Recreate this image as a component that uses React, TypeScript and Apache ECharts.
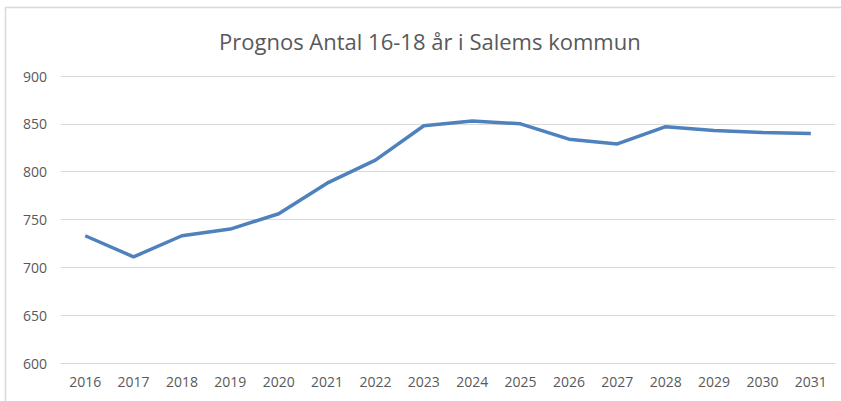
import React, { useEffect, useRef } from "react";
import * as echarts from "echarts";

const title = "Prognos Antal 16-18 år i Salems kommun";
const years = ["2016", "2017", "2018", "2019", "2020", "2021", "2022", "2023", "2024", "2025", "2026", "2027", "2028", "2029", "2030", "2031"];
const values = [733, 711, 733, 740, 756, 788, 812, 848, 853, 850, 834, 829, 847, 843, 841, 840];

export default function App() {
  const ref = useRef<HTMLDivElement>(null);
  useEffect(() => {
    const chart = echarts.init(ref.current!, null, { renderer: "svg" });
    chart.setOption({
      animation: false,
      backgroundColor: "#ffffff",
      title: {
        text: title,
        left: 214,
        top: 25,
        textStyle: { fontFamily: "Open Sans", fontSize: 22, fontWeight: "normal", color: "#595959" },
      },
      graphic: [
        {
          type: "rect",
          shape: { x: 5.5, y: 7.5, width: 850, height: 420 },
          style: { fill: "none", stroke: "#d9d9d9", lineWidth: 1.5 },
          silent: true,
        },
      ],
      grid: { left: 61, right: 6, top: 76, bottom: 38 },
      xAxis: {
        type: "category",
        data: years,
        boundaryGap: true,
        axisLine: { show: true, lineStyle: { color: "#d9d9d9" } },
        axisTick: { show: false },
        axisLabel: { color: "#595959", fontFamily: "Open Sans", fontSize: 14, margin: 11 },
      },
      yAxis: {
        type: "value",
        min: 600,
        max: 900,
        interval: 50,
        axisLine: { show: false },
        axisTick: { show: false },
        splitLine: { lineStyle: { color: "#d9d9d9", width: 1 } },
        axisLabel: { color: "#595959", fontFamily: "Open Sans", fontSize: 14, margin: 14 },
      },
      series: [
        {
          type: "line",
          data: values,
          symbol: "none",
          lineStyle: { color: "#4f81bd", width: 3.5 },
        },
      ],
    });
    return () => chart.dispose();
  }, []);
  return <div ref={ref} style={{ position: "fixed", left: 0, top: 0, width: 841, height: 401 }} />;
}
